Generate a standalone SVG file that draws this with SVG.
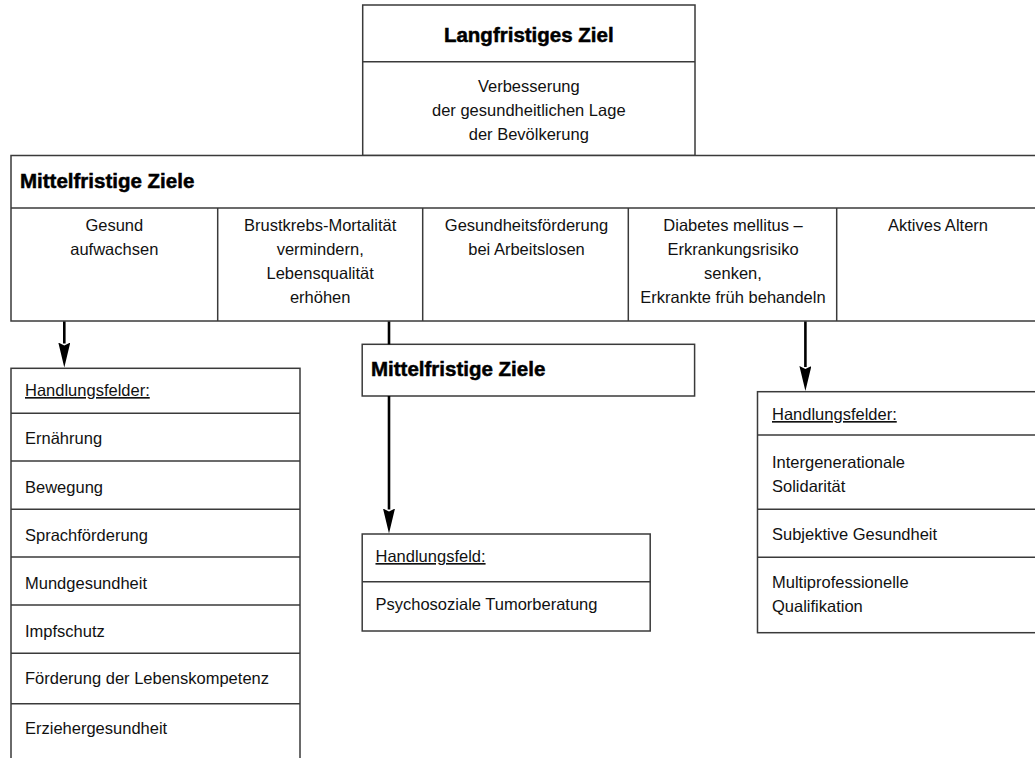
<svg xmlns="http://www.w3.org/2000/svg" width="1035" height="758" viewBox="0 0 1035 758">
<style>
.box{fill:#fff;stroke:#3a3a3a;stroke-width:1.5}
.ln{stroke:#3a3a3a;stroke-width:1.5;fill:none}
.t{font-family:"Liberation Sans",Arial,sans-serif;font-size:16.5px;fill:#111}
.c{text-anchor:middle}
.h{font-family:"Liberation Sans",Arial,sans-serif;font-size:20.5px;font-weight:bold;fill:#000;stroke:#000;stroke-width:0.5}
.u{text-decoration:underline}
.arr{stroke:#000;stroke-width:2.6;fill:none}
</style>
<defs>
<marker id="ah" markerUnits="userSpaceOnUse" markerWidth="26" markerHeight="12" viewBox="0 0 26 12" refX="1" refY="6" orient="auto">
<path d="M0,0 L25,6 L0,12 L3,6 z" fill="#000"/>
</marker>
</defs>
<rect width="1035" height="758" fill="#fff"/>

<g id="langfristig">
<rect class="box" x="362.7" y="5" width="332.3" height="150.5"/>
<line class="ln" x1="362.7" y1="61.7" x2="695" y2="61.7"/>
<text class="h c" x="528.8" y="41.5">Langfristiges Ziel</text>
<text class="t c" x="528.8" y="92">Verbesserung</text>
<text class="t c" x="528.8" y="116">der gesundheitlichen Lage</text>
<text class="t c" x="528.8" y="139.5">der Bevölkerung</text>
</g>

<g id="mittelfristig">
<rect class="box" x="11" y="155.5" width="1030" height="165.5"/>
<line class="ln" x1="11" y1="208" x2="1041" y2="208"/>
<line class="ln" x1="217.7" y1="208" x2="217.7" y2="321"/>
<line class="ln" x1="422.7" y1="208" x2="422.7" y2="321"/>
<line class="ln" x1="628.3" y1="208" x2="628.3" y2="321"/>
<line class="ln" x1="836.7" y1="208" x2="836.7" y2="321"/>
<text class="h" x="20" y="188">Mittelfristige Ziele</text>
<text class="t c" x="114.3" y="231">Gesund</text>
<text class="t c" x="114.3" y="255">aufwachsen</text>
<text class="t c" x="320.2" y="231">Brustkrebs-Mortalität</text>
<text class="t c" x="320.2" y="255">vermindern,</text>
<text class="t c" x="320.2" y="279">Lebensqualität</text>
<text class="t c" x="320.2" y="302.5">erhöhen</text>
<text class="t c" x="526.5" y="231">Gesundheitsförderung</text>
<text class="t c" x="526.5" y="255">bei Arbeitslosen</text>
<text class="t c" x="733" y="231">Diabetes mellitus –</text>
<text class="t c" x="733" y="255">Erkrankungsrisiko</text>
<text class="t c" x="733" y="279">senken,</text>
<text class="t c" x="733" y="302.5">Erkrankte früh behandeln</text>
<text class="t c" x="938" y="231">Aktives Altern</text>
</g>

<g id="hf-aufwachsen">
<rect class="box" x="11" y="368.3" width="289" height="400"/>
<line class="ln" x1="11" y1="413.3" x2="300" y2="413.3"/>
<line class="ln" x1="11" y1="461" x2="300" y2="461"/>
<line class="ln" x1="11" y1="509.3" x2="300" y2="509.3"/>
<line class="ln" x1="11" y1="557" x2="300" y2="557"/>
<line class="ln" x1="11" y1="605" x2="300" y2="605"/>
<line class="ln" x1="11" y1="653.3" x2="300" y2="653.3"/>
<line class="ln" x1="11" y1="703.7" x2="300" y2="703.7"/>
<text class="t u" x="25" y="396">Handlungsfelder:</text>
<text class="t" x="25" y="444">Ernährung</text>
<text class="t" x="25" y="492.5">Bewegung</text>
<text class="t" x="25" y="540.5">Sprachförderung</text>
<text class="t" x="25" y="588.5">Mundgesundheit</text>
<text class="t" x="25" y="636.5">Impfschutz</text>
<text class="t" x="25" y="684">Förderung der Lebenskompetenz</text>
<text class="t" x="25" y="734">Erziehergesundheit</text>
</g>

<g id="mittelfristig-2">
<rect class="box" x="362.2" y="344.3" width="332.4" height="51.7"/>
<text class="h" x="371" y="375.7">Mittelfristige Ziele</text>
</g>

<g id="hf-brustkrebs">
<rect class="box" x="362.2" y="534" width="288" height="97"/>
<line class="ln" x1="362.2" y1="581.7" x2="650.2" y2="581.7"/>
<text class="t u" x="375.5" y="562">Handlungsfeld:</text>
<text class="t" x="375.5" y="610">Psychosoziale Tumorberatung</text>
</g>

<g id="hf-altern">
<rect class="box" x="757.5" y="391.7" width="290" height="241"/>
<line class="ln" x1="757.5" y1="435" x2="1041" y2="435"/>
<line class="ln" x1="757.5" y1="509.3" x2="1041" y2="509.3"/>
<line class="ln" x1="757.5" y1="557.3" x2="1041" y2="557.3"/>
<text class="t u" x="772" y="420">Handlungsfelder:</text>
<text class="t" x="772" y="468.3">Intergenerationale</text>
<text class="t" x="772" y="491.7">Solidarität</text>
<text class="t" x="772" y="540">Subjektive Gesundheit</text>
<text class="t" x="772" y="588.3">Multiprofessionelle</text>
<text class="t" x="772" y="611.7">Qualifikation</text>
</g>

<g id="connectors">
<line class="arr" x1="64.3" y1="321.5" x2="64.3" y2="343.5" marker-end="url(#ah)"/>
<line class="arr" x1="389" y1="321.5" x2="389" y2="344.3"/>
<line class="arr" x1="389" y1="396" x2="389" y2="509.5" marker-end="url(#ah)"/>
<line class="arr" x1="805.4" y1="321.5" x2="805.4" y2="367" marker-end="url(#ah)"/>
</g>
</svg>
